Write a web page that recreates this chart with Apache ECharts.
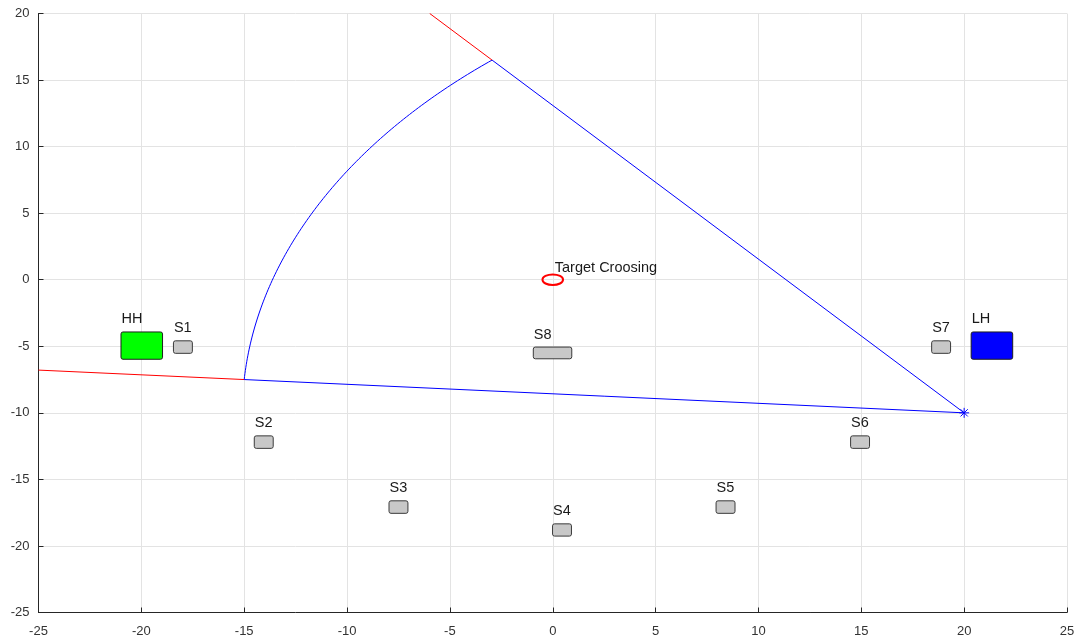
<!DOCTYPE html>
<html>
<head>
<meta charset="utf-8">
<script src="https://cdn.jsdelivr.net/npm/echarts@6/dist/echarts.min.js"></script>
<style>
html,body{margin:0;padding:0;background:#fff;}
#chart{width:1081px;height:639px;}
</style>
</head>
<body>
<div id="chart"></div>
<script>
// ---- data (axis units) ----
const sensorNames = ['S1', 'S2', 'S3', 'S4', 'S5', 'S6', 'S7', 'S8'];
const sensorX = [-17.98, -14.05, -7.5, 0.45, 8.4, 14.94, 18.88, -0.01];
const sensorY = [-5.06, -12.2, -17.08, -18.8, -17.08, -12.2, -5.06, -5.5];
const sensorW = [0.92, 0.92, 0.92, 0.92, 0.92, 0.92, 0.92, 1.87];
const sensorH = [0.94, 0.94, 0.94, 0.92, 0.94, 0.94, 0.94, 0.88];

const houseNames = ['HH', 'LH'];
const houseX = [-19.98, 21.35];
const houseY = [-4.95, -4.95];
const houseW = [2.02, 2.02];
const houseH = [2.05, 2.05];
const houseColors = ['#00ff00', '#0000ff'];

const beamOrigin = [20, -10];
const beamEdgeA = [-15, -7.5];
const beamEdgeB = [-2.95, 16.5];
const redEndA = [-25, -6.79];
const redEndB = [-5.98, 20];

const targetCenter = [0, 0];
const targetRadius = [0.5, 0.4];
const targetLabel = 'Target Croosing';
const targetLabelPos = [0.1, 0.88];

const FONT = '"Liberation Sans", Arial, Helvetica, sans-serif';
const LABEL_FONT = '14.5px ' + FONT;

function boxItem(params, api, x, y, w, h, fill, stroke, name) {
  const tl = api.coord([x - w / 2, y + h / 2]);
  const br = api.coord([x + w / 2, y - h / 2]);
  return {
    type: 'group',
    children: [
      {
        type: 'rect',
        shape: { x: tl[0], y: tl[1], width: br[0] - tl[0], height: br[1] - tl[1], r: 2 },
        style: { fill: fill, stroke: stroke, lineWidth: 1 }
      },
      {
        type: 'text',
        x: tl[0] + 0.5,
        y: tl[1] - 12.5,
        style: { text: name, fill: '#1a1a1a', font: LABEL_FONT, align: 'left', verticalAlign: 'middle' }
      }
    ]
  };
}

const chart = echarts.init(document.getElementById('chart'), null, { renderer: 'canvas' });

const axisCommon = {
  type: 'value',
  axisLine: { show: true, onZero: false, lineStyle: { color: '#262626', width: 1 } },
  axisTick: { show: true, inside: true, length: 5, lineStyle: { color: '#262626' } },
  axisLabel: { color: '#333333', fontSize: 13, fontFamily: FONT },
  splitLine: { show: true, lineStyle: { color: '#e3e3e3', width: 1 } }
};

const option = {
  backgroundColor: '#ffffff',
  animation: false,
  grid: { left: 38.5, right: 14, top: 13.5, bottom: 26.5, containLabel: false },
  xAxis: Object.assign({}, axisCommon, {
    min: -25, max: 25, interval: 5,
    axisLabel: Object.assign({}, axisCommon.axisLabel, { margin: 12 })
  }),
  yAxis: Object.assign({}, axisCommon, {
    min: -25, max: 20, interval: 5,
    axisLabel: Object.assign({}, axisCommon.axisLabel, { margin: 9 })
  }),
  series: [
    {
      type: 'line', data: [beamEdgeA, redEndA], showSymbol: false, silent: true,
      lineStyle: { color: '#ff0000', width: 1 }
    },
    {
      type: 'line', data: [beamEdgeB, redEndB], showSymbol: false, silent: true,
      lineStyle: { color: '#ff0000', width: 1 }
    },
    {
      type: 'line', data: [beamEdgeA, beamOrigin, beamEdgeB], showSymbol: false, silent: true,
      lineStyle: { color: '#0000ff', width: 1 }
    },
    {
      // arc of the beam, centred on the origin, between the two edges
      type: 'custom', silent: true, clip: true,
      data: [0],
      renderItem: function (params, api) {
        const ax = beamEdgeA[0] - beamOrigin[0], ay = beamEdgeA[1] - beamOrigin[1];
        const bx = beamEdgeB[0] - beamOrigin[0], by = beamEdgeB[1] - beamOrigin[1];
        const ra = Math.hypot(ax, ay), rb = Math.hypot(bx, by);
        const a0 = Math.atan2(ay, ax), a1 = Math.atan2(by, bx);
        const pts = [];
        const n = 120;
        for (let i = 0; i <= n; i++) {
          const t = i / n;
          const ang = a0 + (a1 - a0) * t;
          const r = ra + (rb - ra) * t;
          pts.push(api.coord([beamOrigin[0] + r * Math.cos(ang), beamOrigin[1] + r * Math.sin(ang)]));
        }
        return { type: 'polyline', shape: { points: pts }, style: { stroke: '#0000ff', lineWidth: 1, fill: null } };
      }
    },
    {
      // sensors
      type: 'custom', silent: true,
      data: sensorNames.map((n, i) => [sensorX[i], sensorY[i], sensorW[i], sensorH[i]]),
      renderItem: function (params, api) {
        const i = params.dataIndex;
        return boxItem(params, api, api.value(0), api.value(1), api.value(2), api.value(3), '#c8c8c8', '#3a3a3a', sensorNames[i]);
      }
    },
    {
      // houses
      type: 'custom', silent: true,
      data: houseNames.map((n, i) => [houseX[i], houseY[i], houseW[i], houseH[i]]),
      renderItem: function (params, api) {
        const i = params.dataIndex;
        return boxItem(params, api, api.value(0), api.value(1), api.value(2), api.value(3), houseColors[i], '#1e1e1e', houseNames[i]);
      }
    },
    {
      // target crossing ellipse + label
      type: 'custom', silent: true,
      data: [targetCenter],
      renderItem: function (params, api) {
        const c = api.coord([api.value(0), api.value(1)]);
        const e = api.coord([targetCenter[0] + targetRadius[0], targetCenter[1] + targetRadius[1]]);
        const lp = api.coord(targetLabelPos);
        return {
          type: 'group',
          children: [
            {
              type: 'ellipse',
              shape: { cx: c[0], cy: c[1], rx: Math.abs(e[0] - c[0]), ry: Math.abs(e[1] - c[1]) },
              style: { fill: null, stroke: '#ff0000', lineWidth: 2 }
            },
            {
              type: 'text', x: lp[0], y: lp[1],
              style: { text: targetLabel, fill: '#1a1a1a', font: LABEL_FONT, align: 'left', verticalAlign: 'middle' }
            }
          ]
        };
      }
    },
    {
      // asterisk marker at beam origin
      type: 'custom', silent: true,
      data: [beamOrigin],
      renderItem: function (params, api) {
        const c = api.coord([api.value(0), api.value(1)]);
        const s = 5, d = 3.6;
        const st = { stroke: '#0000ff', lineWidth: 1 };
        return {
          type: 'group',
          children: [
            { type: 'line', shape: { x1: c[0] - s, y1: c[1], x2: c[0] + s, y2: c[1] }, style: st },
            { type: 'line', shape: { x1: c[0], y1: c[1] - s, x2: c[0], y2: c[1] + s }, style: st },
            { type: 'line', shape: { x1: c[0] - d, y1: c[1] - d, x2: c[0] + d, y2: c[1] + d }, style: st },
            { type: 'line', shape: { x1: c[0] - d, y1: c[1] + d, x2: c[0] + d, y2: c[1] - d }, style: st }
          ]
        };
      }
    }
  ]
};

chart.setOption(option);
</script>
</body>
</html>
